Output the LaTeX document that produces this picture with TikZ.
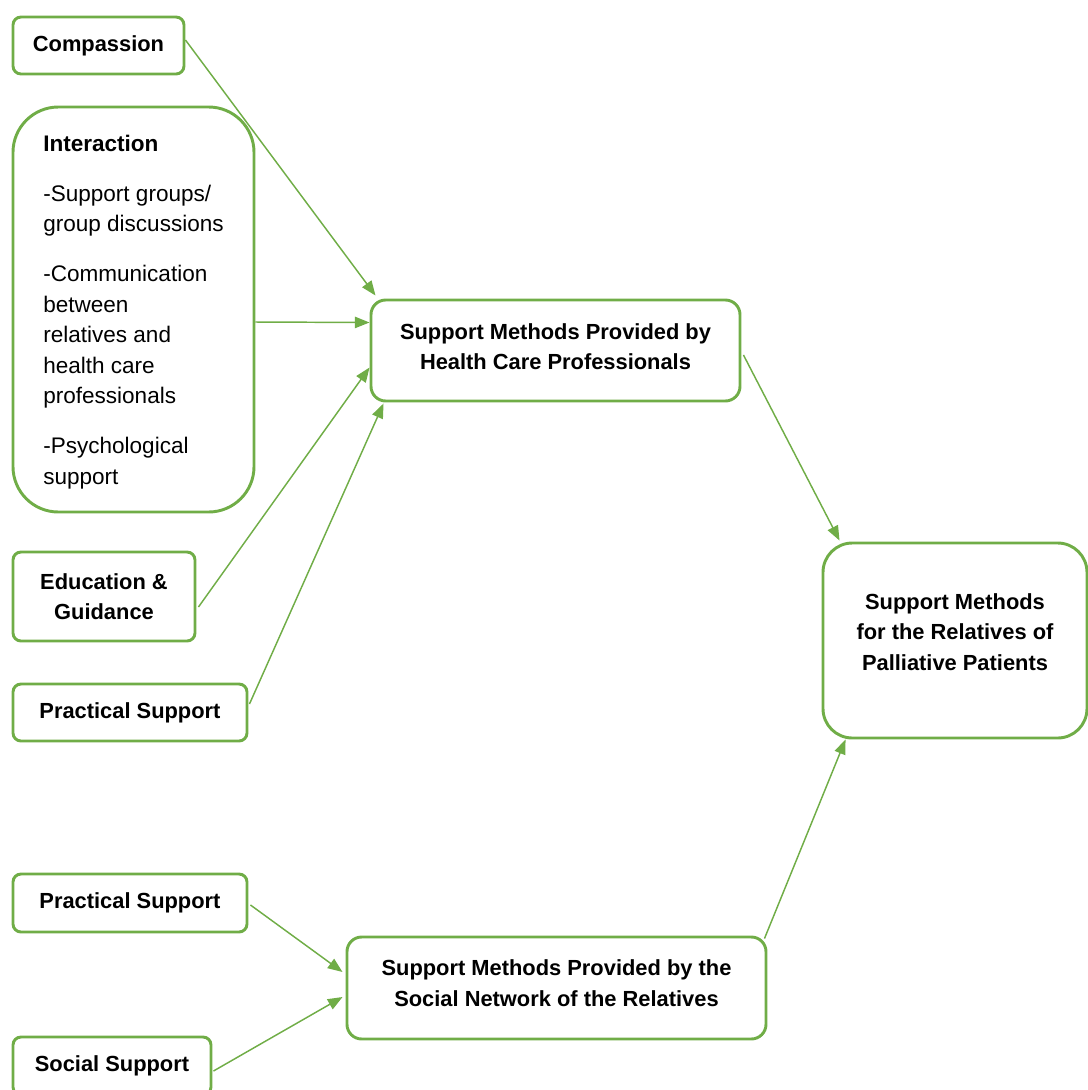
\documentclass[tikz,border=0pt]{standalone}
\usepackage{fontspec}
\setmainfont{Liberation Sans}
\usetikzlibrary{arrows.meta,calc}
\definecolor{grn}{RGB}{112,173,71}
\begin{document}
\begin{tikzpicture}[x=0.75pt,y=-0.75pt,
  box/.style={draw=grn,line width=2.2pt,rounded corners=6pt,inner sep=0pt,
    font=\fontsize{16.4}{22.9}\selectfont\bfseries,align=center},
  conn/.style={draw=grn,line width=1.1pt,-{Triangle[length=11pt,width=8.5pt]}}]
\path[use as bounding box] (0,0) rectangle (1088,1090);
% left inputs (health care)
\node[box,minimum width=128.25pt,minimum height=42.75pt] (comp) at (98.5,45.5) {Compassion};
\node[box,rounded corners=34pt,minimum width=180.75pt,minimum height=303.75pt,
  align=left,text depth=0pt,font=\fontsize{16.9}{22.9}\selectfont] (inter) at (133.5,309.5)
  {\textbf{Interaction}\\[14.6pt]
   -Support groups/\\group discussions\\[14.6pt]
   -Communication\\between\\relatives and\\health care\\professionals\\[14.6pt]
   -Psychological\\support};
\node[box,minimum width=136.5pt,minimum height=66.75pt] (edu) at (104,596.5) {Education \&\\Guidance};
\node[box,minimum width=175.5pt,minimum height=42.75pt] (prac1) at (130,712.5) {Practical Support};
% middle
\node[box,rounded corners=11pt,minimum width=276.75pt,minimum height=75.75pt,text depth=6pt] (hcp) at (555.5,350.5)
  {Support Methods Provided by\\Health Care Professionals};
\node[box,rounded corners=11pt,minimum width=314.25pt,minimum height=76.5pt,text depth=7.5pt] (soc) at (556.5,988)
  {Support Methods Provided by the\\Social Network of the Relatives};
% right
\node[box,rounded corners=22pt,minimum width=198pt,minimum height=146.25pt,text depth=13pt] (rel) at (955,640.5)
  {Support Methods\\for the Relatives of\\Palliative Patients};
% bottom-left inputs (social network)
\node[box,minimum width=175.5pt,minimum height=43.5pt] (prac2) at (130,903) {Practical Support};
\node[box,minimum width=148.5pt,minimum height=43.5pt] (socsup) at (112,1066) {Social Support};
% connectors
\draw[conn] ($(comp.east)+(0,-5.5)$) -- ($(hcp.north west)+(6,-3)$);
\draw[conn] ($(inter.east)+(0,12.5)$) -- ($(hcp.west)+(0,-28)$);
\draw[conn] ($(edu.east)+(2,10.5)$) -- ($(hcp.west)+(0,17)$);
\draw[conn] ($(prac1.east)+(1,-8.5)$) -- ($(hcp.south west)+(14,1)$);
\draw[conn] ($(hcp.east)+(2,4.5)$) -- ($(rel.north west)+(18,-1)$);
\draw[conn] ($(prac2.east)+(2,2)$) -- ($(soc.west)+(-3,-16)$);
\draw[conn] ($(socsup.east)+(1,5)$) -- ($(soc.west)+(-3,9)$);
\draw[conn] ($(soc.north east)+(-3,3)$) -- ($(rel.south west)+(24,0)$);
\end{tikzpicture}
\end{document}
